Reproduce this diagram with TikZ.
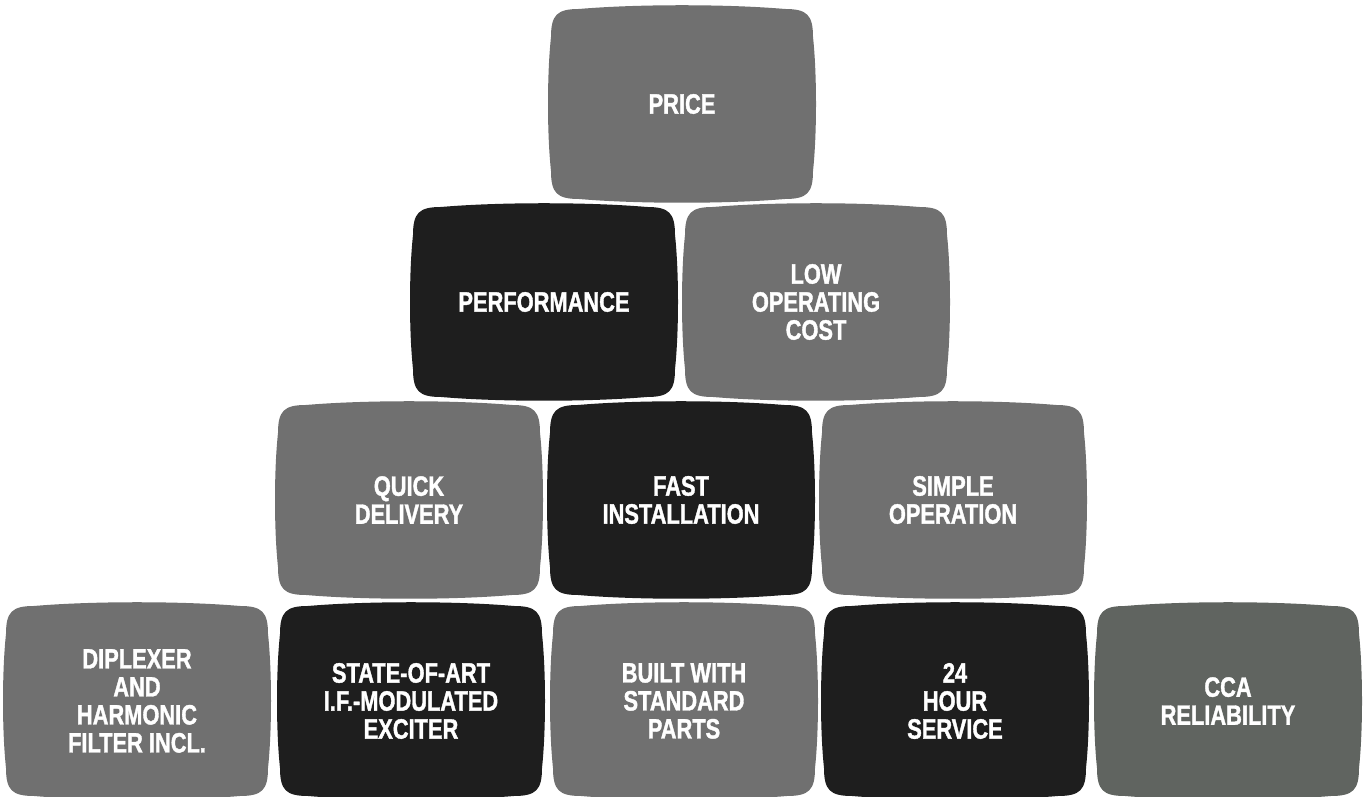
\documentclass[tikz,border=0pt]{standalone}
\usepackage{fontspec}
\setmainfont[FakeStretch=0.78, BoldFeatures={FakeBold=1.3}]{Liberation Sans}
\usetikzlibrary{calc}
\definecolor{midgray}{RGB}{112,112,112}
\definecolor{darkgray}{RGB}{30,30,30}
\definecolor{greengray}{RGB}{96,100,96}
\tikzset{
  lbl/.style={text=white, align=center, inner sep=0pt,
    font=\fontsize{28}{28}\selectfont\bfseries},
}
\newcommand{\tvbox}[5]{% name, cx, cy, fill colour, text
  \fill[#4]
    ({#2-131+28},{#3+95}) .. controls ({#2-45},{#3+100}) and ({#2+45},{#3+100}) .. ({#2+131-28},{#3+95})
    .. controls ({#2+131-6},{#3+95}) and ({#2+131},{#3+95-6}) .. ({#2+131},{#3+95-28})
    .. controls ({#2+135},{#3+30}) and ({#2+135},{#3-30}) .. ({#2+131},{#3-95+28})
    .. controls ({#2+131},{#3-95+6}) and ({#2+131-6},{#3-95}) .. ({#2+131-28},{#3-95})
    .. controls ({#2+45},{#3-100}) and ({#2-45},{#3-100}) .. ({#2-131+28},{#3-95})
    .. controls ({#2-131+6},{#3-95}) and ({#2-131},{#3-95+6}) .. ({#2-131},{#3-95+28})
    .. controls ({#2-135},{#3-30}) and ({#2-135},{#3+30}) .. ({#2-131},{#3+95-28})
    .. controls ({#2-131},{#3+95-6}) and ({#2-131+6},{#3+95}) .. cycle;
  \node[lbl] (#1) at (#2,#3) {#5};
}
\begin{document}
\begin{tikzpicture}[x=1pt,y=1pt]
\useasboundingbox (0,0) rectangle (1369,797);
\fill[white] (0,0) rectangle (1369,797);
% row 1
\tvbox{price}{682}{693}{midgray}{PRICE}
% row 2
\tvbox{perf}{544}{495}{darkgray}{PERFORMANCE}
\tvbox{lowcost}{816}{495}{midgray}{LOW\\OPERATING\\COST}
% row 3
\tvbox{quick}{409}{297}{midgray}{QUICK\\DELIVERY}
\tvbox{fast}{681}{297}{darkgray}{FAST\\INSTALLATION}
\tvbox{simple}{953}{297}{midgray}{SIMPLE\\OPERATION}
% row 4
\tvbox{diplexer}{137}{96}{midgray}{DIPLEXER\\AND\\HARMONIC\\FILTER INCL.}
\tvbox{state}{411}{96}{darkgray}{STATE-OF-ART\\I.F.-MODULATED\\EXCITER}
\tvbox{built}{684}{96}{midgray}{BUILT WITH\\STANDARD\\PARTS}
\tvbox{service}{955}{96}{darkgray}{24\\HOUR\\SERVICE}
\tvbox{cca}{1228}{96}{greengray}{CCA\\RELIABILITY}
\end{tikzpicture}
\end{document}
